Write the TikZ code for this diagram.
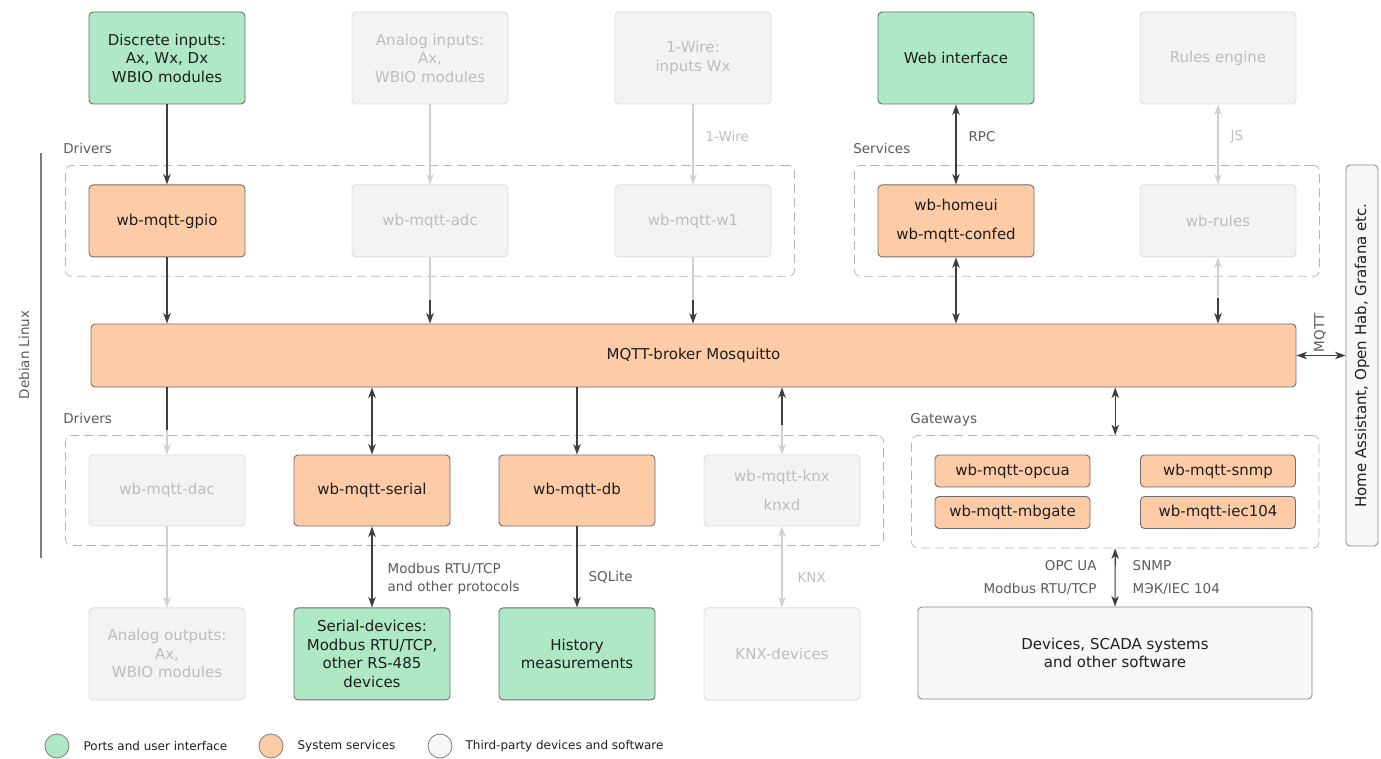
\documentclass[tikz,border=0pt]{standalone}
\usepackage{fontspec}
\setmainfont{DejaVu Sans}
\usetikzlibrary{positioning,arrows.meta,fit}

\definecolor{portfill}{HTML}{AEE8C4}
\definecolor{svcfill}{HTML}{FDCBA6}
\definecolor{extfill}{HTML}{F7F7F7}
\definecolor{offfill}{HTML}{F3F3F3}
\definecolor{offedge}{HTML}{DEDEDE}
\definecolor{offtext}{HTML}{BDBDBD}
\definecolor{boxedge}{HTML}{6E6E6E}
\definecolor{boxtext}{HTML}{1E1E1E}
\definecolor{grpline}{HTML}{B4B4B4}
\definecolor{lbltext}{HTML}{5A5A5A}
\definecolor{arrowdark}{HTML}{3E3E3E}
\definecolor{arrowlight}{HTML}{D0D0D0}

\begin{document}
\begin{tikzpicture}[
    x=1pt, y=-1pt,
    font=\fontsize{15}{18.5}\selectfont,
    >={Stealth[length=10.5pt,width=7.5pt,inset=3pt]},
    box/.style={
        rounded corners=4pt,
        line width=0.9pt,
        align=center,
        minimum width=156pt,
        inner sep=2pt
    },
    portbox/.style={box, draw=boxedge, fill=portfill, text=boxtext},
    svcbox/.style={box, draw=boxedge, fill=svcfill, text=boxtext},
    offbox/.style={box, draw=offedge, fill=offfill, text=offtext},
    extbox/.style={box, draw=boxedge!80, fill=extfill, text=boxtext},
    tallbox/.style={minimum height=92pt},
    rowbox/.style={minimum height=72pt},
    gwbox/.style={svcbox, minimum width=155pt, minimum height=32pt},
    grpbox/.style={
        draw=grpline,
        dash pattern=on 9pt off 5pt,
        rounded corners=6pt,
        line width=0.8pt,
        inner xsep=23pt,
        inner ysep=19pt
    },
    grplabel/.style={font=\fontsize{13.5}{16}\selectfont, text=lbltext, inner sep=0pt, anchor=base west},
    arrowlabel/.style={font=\fontsize{13.5}{18}\selectfont, text=lbltext, inner sep=0pt, align=left},
    offlabel/.style={arrowlabel, text=offtext},
    legendtext/.style={font=\fontsize{12}{14}\selectfont, text=boxtext, inner sep=0pt, anchor=west},
    dot/.style={circle, draw=boxedge!90, line width=0.8pt, minimum size=24pt, inner sep=0pt},
    darrow/.style={->, draw=arrowdark, line width=1.2pt},
    dboth/.style={<->, draw=arrowdark, line width=1.2pt},
    larrow/.style={->, draw=arrowlight, line width=1.2pt},
    lboth/.style={<->, draw=arrowlight, line width=1.2pt},
    lline/.style={draw=arrowlight, line width=1.2pt}
]
    \useasboundingbox (0,0) rectangle (1381,759);

    % top row
    \node[portbox, tallbox] (discr) at (167,58) {Discrete inputs:\\Ax, Wx, Dx\\WBIO modules};
    \node[offbox, tallbox] (anin) at (430,58) {Analog inputs:\\Ax,\\WBIO modules};
    \node[offbox, tallbox] (wire) at (693,58) {1-Wire:\\inputs Wx};
    \node[portbox, tallbox] (web) at (956,58) {Web interface};
    \node[offbox, tallbox] (engine) at (1218,58) {Rules engine};

    % drivers and services
    \node[svcbox, rowbox, below=80pt of discr] (gpio) {wb-mqtt-gpio};
    \node[offbox, rowbox, below=80pt of anin] (adc) {wb-mqtt-adc};
    \node[offbox, rowbox, below=80pt of wire] (w1) {wb-mqtt-w1};
    \node[svcbox, rowbox, below=80pt of web] (homeui) {wb-homeui\\[10pt]wb-mqtt-confed};
    \node[offbox, rowbox, below=80pt of engine] (rules) {wb-rules};

    \node[grpbox, fit=(gpio)(w1)] (drvtop) {};
    \node[grpbox, fit=(homeui)(rules)] (svc) {};
    \node[grplabel, xshift=-2pt, yshift=12pt] (drvtoplbl) at (drvtop.north west) {Drivers};
    \node[grplabel, xshift=-1pt, yshift=12pt] (svclbl) at (svc.north west) {Services};

    % broker
    \node[svcbox, minimum width=1205pt, minimum height=63pt] (broker) at (693.5,355.5) {MQTT-broker Mosquitto};

    % lower drivers
    \node[offbox, minimum height=71pt] (dac) at (167,490.5) {wb-mqtt-dac};
    \node[svcbox, minimum height=71pt] (serial) at (372,490.5) {wb-mqtt-serial};
    \node[svcbox, minimum height=71pt] (db) at (577,490.5) {wb-mqtt-db};
    \node[offbox, minimum height=71pt] (knx) at (782,490.5) {wb-mqtt-knx\\[10pt]knxd};
    \node[grpbox, fit=(dac)(knx)] (drvbot) {};
    \node[grplabel, xshift=-2pt, yshift=12pt] (drvbotlbl) at (drvbot.north west) {Drivers};

    % gateways
    \node[gwbox] (opcua) at (1012.5,471) {wb-mqtt-opcua};
    \node[gwbox] (snmp) at (1218,471) {wb-mqtt-snmp};
    \node[gwbox] (mbgate) at (1012.5,512.5) {wb-mqtt-mbgate};
    \node[gwbox] (iec) at (1218,512.5) {wb-mqtt-iec104};
    \node[grpbox, fit=(opcua)(iec)] (gw) {};
    \node[grplabel, xshift=-1pt, yshift=12pt] (gwlbl) at (gw.north west) {Gateways};

    % bottom row
    \node[offbox, tallbox, below=81pt of dac] (anout) {Analog outputs:\\Ax,\\WBIO modules};
    \node[portbox, tallbox, below=81pt of serial] (serdev) {Serial-devices:\\Modbus RTU/TCP,\\other RS-485\\devices};
    \node[portbox, tallbox, below=81pt of db] (hist) {History\\measurements};
    \node[offbox, tallbox, fill=extfill, below=81pt of knx] (knxdev) {KNX-devices};
    \node[extbox, tallbox, minimum width=394pt] (scada) at (1115,653) {Devices, SCADA systems\\and other software};

    % external systems
    \node[extbox, rotate=90, minimum width=381pt, minimum height=32pt] (ha) at (1362,355.5) {Home Assistant, Open Hab, Grafana etc.};
    \node[arrowlabel, rotate=90] (mqttlbl) at (1320,333) {MQTT};

    % Debian Linux
    \draw[draw=boxedge!90, line width=1.2pt] (41,153) coordinate (linuxtop) -- (41,558) coordinate (linuxbot);
    \node[grplabel, anchor=center, rotate=90] (linuxlbl) at (24,355) {Debian Linux};

    % connectors, upper part
    \draw[darrow] (discr) -- (gpio);
    \draw[darrow] (gpio) -- (gpio |- broker.north);
    \draw[larrow] (anin) -- (adc);
    \coordinate (adcj) at (430,300);
    \draw[lline] (adc.south) -- (adcj);
    \draw[darrow] (adcj) -- (adc |- broker.north);
    \draw[larrow] (wire) -- node[offlabel, pos=0.4, anchor=west, xshift=12pt] {1-Wire} (w1);
    \coordinate (w1j) at (693,300);
    \draw[lline] (w1.south) -- (w1j);
    \draw[darrow] (w1j) -- (w1 |- broker.north);
    \draw[dboth] (web) -- node[arrowlabel, pos=0.4, anchor=west, xshift=12pt] {RPC} (homeui);
    \draw[dboth] (homeui) -- (homeui |- broker.north);
    \draw[lboth] (engine) -- node[offlabel, pos=0.4, anchor=west, xshift=12pt] {JS} (rules);
    \coordinate (rulesj) at (1218,298);
    \draw[lline, <-] (rules.south) -- (rulesj);
    \draw[darrow] (rulesj) -- (rules |- broker.north);
    \draw[dboth] (broker.east) -- (broker.east -| ha.north);

    % connectors, lower part
    \coordinate (dacj) at (167,430);
    \draw[arrowdark, line width=1.2pt] (broker.south -| dac) -- (dacj);
    \draw[larrow] (dacj) -- (dac);
    \draw[larrow] (dac) -- (anout);
    \draw[dboth] (broker.south -| serial) -- (serial);
    \draw[dboth] (serial) -- node[arrowlabel, pos=0.64, anchor=west, xshift=15pt] {Modbus RTU/TCP\\and other protocols} (serdev);
    \draw[darrow] (broker.south -| db) -- (db);
    \draw[darrow] (db) -- node[arrowlabel, pos=0.63, anchor=west, xshift=11pt] {SQLite} (hist);
    \coordinate (knxj) at (782,425);
    \draw[darrow] (knxj) -- (broker.south -| knx);
    \draw[larrow] (knxj) -- (knx);
    \draw[lboth] (knx) -- node[offlabel, pos=0.63, anchor=west, xshift=15pt] {KNX} (knxdev);
    \draw[dboth] (broker.south -| gw) -- (gw);
    \draw[dboth] (gw) -- node[arrowlabel, pos=0.51, anchor=east, xshift=-18pt, align=right, font=\fontsize{13.5}{23}\selectfont] {OPC UA\\Modbus RTU/TCP}
        node[arrowlabel, pos=0.51, anchor=west, xshift=17pt, font=\fontsize{13.5}{23}\selectfont] {SNMP\\МЭК/IEC 104} (scada);

    % legend
    \node[dot, fill=portfill] (lgport) at (57,746) {};
    \node[legendtext, right=14pt of lgport] (lgporttxt) {Ports and user interface};
    \node[dot, fill=svcfill] (lgsvc) at (271,746) {};
    \node[legendtext, right=14pt of lgsvc] (lgsvctxt) {System services};
    \node[dot, fill=extfill] (lgext) at (440,746) {};
    \node[legendtext, right=13pt of lgext] (lgexttxt) {Third-party devices and software};

\end{tikzpicture}
\end{document}
